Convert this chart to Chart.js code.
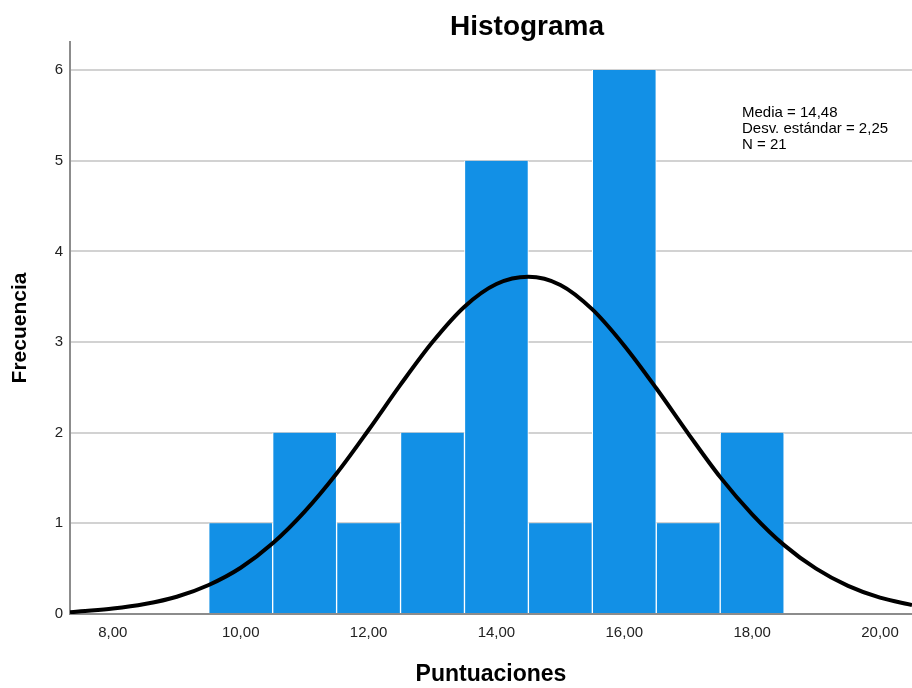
<!DOCTYPE html>
<html lang="es">
<head>
    <meta charset="UTF-8">
    <title>Histograma</title>
    <style>
        body {
            margin: 0;
            background: #fff;
        }

        #wrap {
            width: 912px;
            height: 688px;
        }
    </style>
    <script src="https://cdn.jsdelivr.net/npm/chart.js"></script>
</head>
<body>
    <div id="wrap"><canvas id="hist"></canvas></div>

    <script>
        // clases (centro de cada barra) y frecuencias
        const binCenters = [10, 11, 12, 13, 14, 15, 16, 17, 18];
        const frequencies = [1, 2, 1, 2, 5, 1, 6, 1, 2];

        // curva normal
        const curveX = [7.33, 7.5, 8, 8.5, 9, 9.5, 10, 10.5, 11, 11.5, 12, 12.5, 13, 13.5, 14, 14.5,
            15, 15.5, 16, 16.5, 17, 17.5, 18, 18.5, 19, 19.5, 20, 20.5];
        const curveY = [0.02, 0.03, 0.06, 0.11, 0.19, 0.32, 0.51, 0.78, 1.13, 1.55, 2.03, 2.53, 3.0, 3.39, 3.64, 3.72,
            3.63, 3.36, 2.96, 2.49, 1.99, 1.51, 1.10, 0.76, 0.50, 0.31, 0.18, 0.10];

        const xTicks = [8, 10, 12, 14, 16, 18, 20];
        const yTicks = [0, 1, 2, 3, 4, 5, 6];
        const statsLines = ['Media = 14,48', 'Desv. estándar = 2,25', 'N = 21'];

        const FONT = 'Arial, "Liberation Sans", sans-serif';

        // título y cuadro de estadísticos
        const textPlugin = {
            id: 'textPlugin',
            afterDraw(chart) {
                const ctx = chart.ctx;
                ctx.save();
                ctx.fillStyle = '#000';
                ctx.font = 'bold 28px ' + FONT;
                ctx.textAlign = 'center';
                ctx.textBaseline = 'alphabetic';
                ctx.fillText('Histograma', 527, 35);

                ctx.font = '15px ' + FONT;
                ctx.textAlign = 'left';
                statsLines.forEach((line, i) => {
                    ctx.fillText(line, 742, 117 + i * 16);
                });
                ctx.restore();
            }
        };

        const ctx = document.getElementById('hist').getContext('2d');
        new Chart(ctx, {
            type: 'bar',
            data: {
                datasets: [{
                    type: 'line',
                    data: curveX.map((x, i) => ({ x: x, y: curveY[i] })),
                    borderColor: '#000',
                    borderWidth: 4,
                    pointRadius: 0,
                    cubicInterpolationMode: 'monotone',
                    fill: false,
                    order: 0
                }, {
                    type: 'bar',
                    data: binCenters.map((x, i) => ({ x: x, y: frequencies[i] })),
                    backgroundColor: '#1290e6',
                    borderColor: '#ffffff',
                    borderWidth: { left: 1, right: 1, top: 0, bottom: 0 },
                    borderSkipped: false,
                    barPercentage: 1,
                    categoryPercentage: 1,
                    order: 1
                }]
            },
            options: {
                responsive: true,
                maintainAspectRatio: false,
                animation: false,
                layout: {
                    padding: { top: 42, right: 0, bottom: 0, left: 0 }
                },
                plugins: {
                    legend: { display: false },
                    tooltip: { enabled: false }
                },
                scales: {
                    x: {
                        type: 'linear',
                        min: 7.33,
                        max: 20.5,
                        offset: false,
                        afterBuildTicks: (scale) => {
                            scale.ticks = xTicks.map(v => ({ value: v }));
                        },
                        afterFit: (scale) => {
                            scale.height = 74;
                        },
                        grid: { display: false, drawTicks: false },
                        border: { display: true, color: '#8c8c8c', width: 2 },
                        ticks: {
                            padding: 10,
                            color: '#222',
                            font: { family: FONT, size: 15 },
                            maxRotation: 0,
                            callback: (v) => v.toFixed(2).replace('.', ',')
                        },
                        title: {
                            display: true,
                            text: 'Puntuaciones',
                            color: '#000',
                            font: { family: FONT, size: 23, weight: 'bold' },
                            padding: { top: 0, bottom: 0 }
                        }
                    },
                    y: {
                        min: 0,
                        max: 6.31,
                        afterBuildTicks: (scale) => {
                            scale.ticks = yTicks.map(v => ({ value: v }));
                        },
                        afterFit: (scale) => {
                            scale.width = 70;
                        },
                        grid: { color: '#d2d2d2', lineWidth: 2, drawTicks: false },
                        border: { display: true, color: '#8c8c8c', width: 2 },
                        ticks: {
                            padding: 7,
                            color: '#222',
                            font: { family: FONT, size: 15 }
                        },
                        title: {
                            display: true,
                            text: 'Frecuencia',
                            color: '#000',
                            font: { family: FONT, size: 21, weight: 'bold' },
                            padding: { top: 8, bottom: 0 }
                        }
                    }
                }
            },
            plugins: [textPlugin]
        });
    </script>
</body>
</html>
